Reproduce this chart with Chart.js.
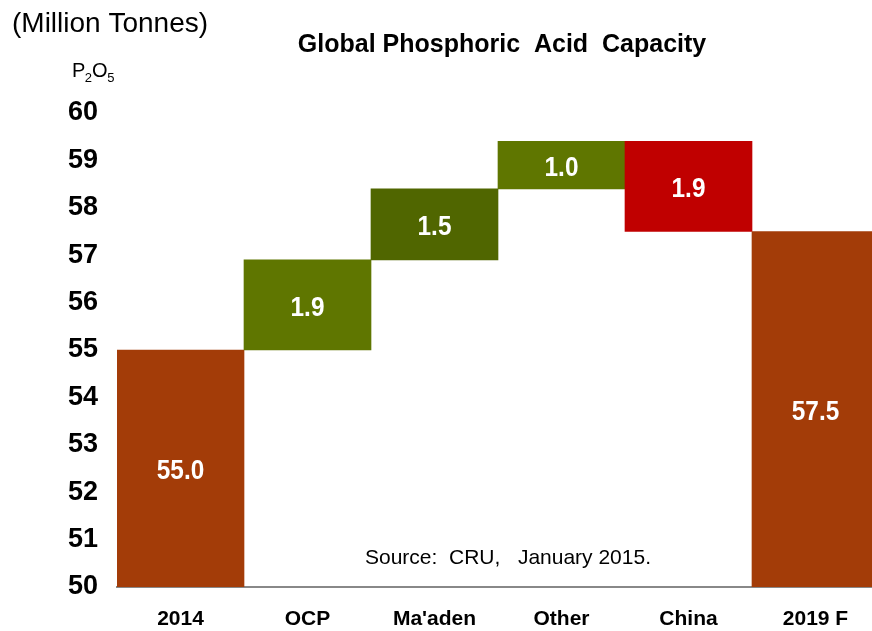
<!DOCTYPE html>
<html>
<head>
<meta charset="utf-8">
<script src="https://cdn.jsdelivr.net/npm/chart.js@4.4.1/dist/chart.umd.min.js"></script>
<style>
html,body{margin:0;padding:0;overflow:hidden;background:#fff;width:872px;height:631px;}
#wrap{position:absolute;left:0;top:0;width:880px;height:631px;}
</style>
</head>
<body>
<div id="wrap"><canvas id="c" width="880" height="631"></canvas></div>
<script>
// ---- data ----
const categories = ['2014', 'OCP', "Ma'aden", 'Other', 'China', '2019 F'];
const barLows  = [50.0, 55.0, 56.9, 58.4, 57.5, 50.0];
const barHighs = [55.0, 56.9, 58.4, 59.4, 59.4, 57.5];
const valueLabels = ['55.0', '1.9', '1.5', '1.0', '1.9', '57.5'];
const yMin = 50, yMax = 60, yStep = 1;
const titleText = 'Global Phosphoric  Acid  Capacity';
const unitText = '(Million Tonnes)';
const sourceText = 'Source:  CRU,   January 2015.';

// ---- styles ----
const barColors = ['#A33C08', '#5F7600', '#506600', '#5F7600', '#C00000', '#A33C08'];
const SANS = "'Liberation Sans', Arial, sans-serif";

const textPlugin = {
  id: 'texts',
  afterDraw(chart) {
    const ctx = chart.ctx;
    ctx.save();
    ctx.fillStyle = '#000';
    // title
    ctx.font = "bold 25px " + SANS;
    ctx.textAlign = 'center';
    ctx.textBaseline = 'alphabetic';
    ctx.fillText(titleText, 502, 52);
    // unit
    ctx.font = "28px " + SANS;
    ctx.textAlign = 'left';
    ctx.fillText(unitText, 12, 32);
    // P2O5
    let x = 72;
    const base = 77;
    const parts = [['P', 20, 0], ['2', 13, 5], ['O', 20, 0], ['5', 13, 5]];
    for (const [t, s, d] of parts) {
      ctx.font = s + "px " + SANS;
      ctx.fillText(t, x, base + d);
      x += ctx.measureText(t).width - (s === 20 ? 0.5 : 0);
    }
    // source
    ctx.font = "21px " + SANS;
    ctx.fillText(sourceText, 365, 564);
    // bar value labels (condensed look)
    const meta = chart.getDatasetMeta(0);
    ctx.fillStyle = '#fff';
    ctx.font = "bold 28px " + SANS;
    ctx.textAlign = 'center';
    ctx.textBaseline = 'middle';
    meta.data.forEach((el, i) => {
      const cy = (el.y + el.base) / 2 + 3;
      ctx.save();
      ctx.translate(el.x, cy);
      ctx.scale(0.87, 1);
      ctx.fillText(valueLabels[i], 0, 0);
      ctx.restore();
    });
    ctx.restore();
  }
};

new Chart(document.getElementById('c'), {
  type: 'bar',
  data: {
    labels: categories,
    datasets: [{
      data: categories.map((c, i) => [barLows[i], barHighs[i]]),
      backgroundColor: barColors,
      borderWidth: 0,
      categoryPercentage: 1.0,
      barPercentage: 1.0
    }]
  },
  options: {
    responsive: false,
    animation: false,
    devicePixelRatio: 1,
    layout: { padding: { top: 113, left: 0, right: 1, bottom: 0 } },
    plugins: { legend: { display: false }, tooltip: { enabled: false }, title: { display: false } },
    scales: {
      x: {
        grid: { display: false, drawTicks: false },
        border: { display: true, color: '#888888', width: 2 },
        ticks: {
          color: '#000',
          font: { family: SANS, size: 21, weight: 'bold' },
          padding: 20,
          maxRotation: 0,
          autoSkip: false
        },
        afterFit(s) { s.height = 44; }
      },
      y: {
        min: yMin,
        max: yMax,
        grid: { display: false, drawTicks: false },
        border: { display: false },
        ticks: {
          stepSize: yStep,
          color: '#000',
          font: { family: SANS, size: 27, weight: 'bold' },
          padding: 19
        },
        afterFit(s) { s.width = 117; }
      }
    }
  },
  plugins: [textPlugin]
});
</script>
</body>
</html>
